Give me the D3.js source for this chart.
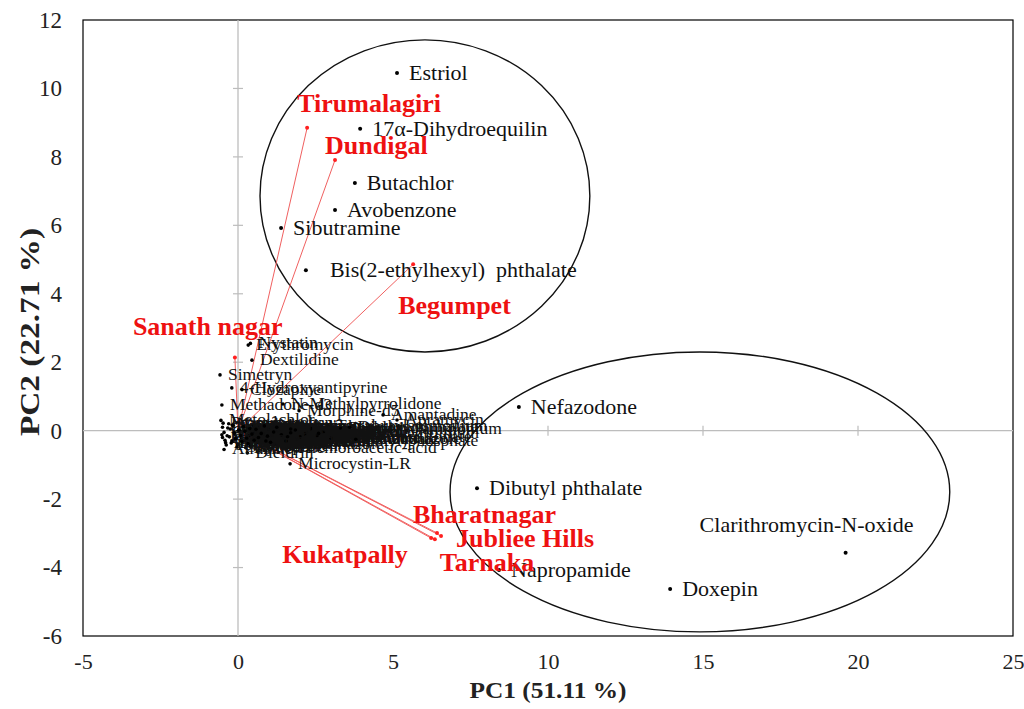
<!DOCTYPE html>
<html><head><meta charset="utf-8">
<script src="https://cdn.jsdelivr.net/npm/d3@7"></script>
<style>
body{margin:0;background:#fff;}
text{font-family:"Liberation Serif","Times New Roman",serif;}
</style></head>
<body><svg id="chart" width="1024" height="709"></svg>
<script>
// ---- data ----
const xTicks = [-5, 0, 5, 10, 15, 20, 25];
const yTicks = [-6, -4, -2, 0, 2, 4, 6, 8, 10, 12];
const xTitle = "PC1 (51.11 %)";
const yTitle = "PC2 (22.71 %)";

// main labelled compounds (scores)
const compoundNames = ["Estriol","17\u03b1-Dihydroequilin","Butachlor","Avobenzone","Sibutramine","Bis(2-ethylhexyl)  phthalate","Nefazodone","Dibutyl phthalate","Clarithromycin-N-oxide","Napropamide","Doxepin"];
const compoundX = [5.13, 3.94, 3.77, 3.13, 1.39, 2.19, 9.06, 7.71, 19.6, 8.42, 13.94];
const compoundY = [10.45, 8.82, 7.24, 6.45, 5.92, 4.69, 0.69, -1.68, -3.57, -4.07, -4.63];

// small labelled compounds near the origin
const minorNames = ["Erythromycin","Nystatin","Dextilidine","Simetryn","4-Hydroxyantipyrine","Clozapine","Methadone-d3","N-Methylpyrrolidone","Morphine-d5","Amantadine","Apramycin","Microcystin-LR",
 "Metolachlor","Caffeine","Carbamazepine","Diclofenac","Ibuprofen","Naproxen","Triclosan","Metoprolol","Sulfamethoxazole","Trimethoprim","Acetaminophen","Gemfibrozil","Bisphenol A","Benzophenone-3","Propranolol","Fluoxetine","Venlafaxine","Tramadol","Ketoprofen","Lincomycin","Ciprofloxacin","Ofloxacin","Tetracycline","Chlorpyrifos","Diazinon","Malathion","Imidacloprid","Carbendazim","Terbutryn","Trichloroacetic-acid","Tetrabutylammonium","Perfluorooctanoate","Dieldrin","Atrazine","Diuron","Simazine","Propiconazole","Tebuconazole",
 "Methylparaben","Propylparaben","Galaxolide","Tonalide","Estrone","Testosterone","Progesterone","Cotinine","Nicotine","Codeine","Oxycodone","Citalopram","Sertraline","Paroxetine","Atenolol","Sotalol","Losartan","Valsartan","Metformin","Ranitidine","Omeprazole","Clindamycin","Azithromycin","Roxithromycin","Sulfadiazine","Norfloxacin","Enrofloxacin","Chloramphenicol","Triclocarban","Carbaryl","Carbofuran","Fipronil","Permethrin","Cypermethrin","Metribuzin","Prometryn","Alachlor","Acetochlor","Dimethoate","Dichlorvos",
 "Dodecyltrimethylammonium","Perfluorooctanesulfonate","Hexadecylpyridinium","Tris(2-chloroethyl)phosphate","Diethyl phthalate","Benzotriazole"];
const minorX = [0.33, 0.40, 0.45, -0.58, -0.20, 0.13, -0.52, 1.45, 1.97, 4.68, 5.13, 1.68,
 -0.55, -0.50, -0.45, -0.50, -0.40, -0.30, -0.35, -0.25, -0.20, -0.15, -0.10, 0.00, 0.05, 0.10, 0.15, 0.20, 0.30, 0.35, 0.40, 0.50, 0.55, 0.60, 0.70, 0.80, 0.90, 1.00, 1.10, 1.30, 1.50, 1.60, 2.90, 1.90, 0.30, -0.45, 0.25, 0.65, 1.20, 2.20,
 -0.52, -0.48, -0.42, -0.38, -0.33, -0.28, -0.22, -0.18, -0.12, -0.08, -0.03, 0.02, 0.08, 0.12, 0.18, 0.22, 0.28, 0.33, 0.38, 0.45, 0.52, 0.58, 0.66, 0.75, 0.85, 0.95, 1.05, 1.15, 1.25, 1.40, 1.55, 1.70, 1.85, 2.00, 2.15, 2.35, 2.55, 2.75, 3.00, 3.30,
 1.70, 1.60, 2.60, 0.90, 3.60, 3.80];
const minorY = [2.50, 2.55, 2.06, 1.63, 1.25, 1.20, 0.75, 0.78, 0.58, 0.46, 0.31, -0.97,
 0.30, 0.10, -0.05, -0.20, -0.35, 0.20, -0.15, 0.05, -0.30, 0.15, -0.10, -0.40, 0.00, -0.20, 0.10, -0.30, 0.05, -0.15, -0.45, 0.15, -0.05, -0.25, 0.10, -0.10, -0.30, 0.05, -0.15, 0.00, -0.20, -0.50, 0.15, -0.25, -0.65, -0.55, -0.50, -0.35, -0.40, -0.05,
 -0.12, 0.22, -0.28, -0.42, 0.08, -0.18, -0.36, 0.16, -0.06, -0.24, -0.48, 0.02, -0.14, -0.32, 0.12, -0.02, -0.22, -0.38, 0.06, -0.10, -0.28, 0.04, -0.20, -0.08, 0.14, -0.16, -0.34, -0.04, 0.10, -0.12, -0.30, -0.06, 0.02, -0.18, -0.10, 0.06, -0.14, -0.04, -0.22, 0.08,
 0.05, -0.18, -0.08, -0.30, 0.10, -0.25];

// site loadings
const siteNames = ["Tirumalagiri","Dundigal","Begumpet","Sanath nagar","Bharatnagar","Jubliee Hills","Tarnaka","Kukatpally"];
const siteX = [2.23, 3.13, 5.65, -0.10, 6.42, 6.55, 6.35, 6.23];
const siteY = [8.85, 7.91, 4.86, 2.14, -2.99, -3.08, -3.17, -3.14];

// group ellipses (centre x, centre y, radius x, radius y) in PC units
const ellipseCX = [6.03, 14.9];
const ellipseCY = [6.86, -1.79];
const ellipseRX = [5.32, 8.06];
const ellipseRY = [4.56, 4.09];

// ---- layout ----
const M = {left: 83, right: 1013, top: 20, bottom: 636};
const svg = d3.select("#chart");
const x = d3.scaleLinear().domain([-5, 25]).range([M.left, M.right]);
const y = d3.scaleLinear().domain([-6, 12]).range([M.bottom, M.top]);
const serif = "Liberation Serif, Times New Roman, serif";

// label offsets (px) for site labels
const siteLabelOff = {
  "Tirumalagiri": [-10, -16], "Dundigal": [-10, -6], "Begumpet": [-15, 50],
  "Sanath nagar": [-102, -22], "Bharatnagar": [-24, -10], "Jubliee Hills": [15, 11],
  "Tarnaka": [5, 32], "Kukatpally": [-149, 25]
};

// frame
svg.append("rect").attr("x", M.left).attr("y", M.top)
  .attr("width", M.right - M.left).attr("height", M.bottom - M.top)
  .attr("fill", "none").attr("stroke", "#000").attr("stroke-width", 1.2);

// zero lines with crossing ticks
const gridCol = "#bdbdbd";
svg.append("line").attr("x1", M.left).attr("x2", M.right).attr("y1", y(0)).attr("y2", y(0))
  .attr("stroke", gridCol).attr("stroke-width", 1.3);
svg.append("line").attr("x1", x(0)).attr("x2", x(0)).attr("y1", M.top).attr("y2", M.bottom)
  .attr("stroke", gridCol).attr("stroke-width", 1.3);
svg.selectAll(".xt").data(xTicks.filter(d => d > -5 && d < 25)).enter().append("line")
  .attr("x1", d => x(d)).attr("x2", d => x(d)).attr("y1", y(0) - 5).attr("y2", y(0) + 5)
  .attr("stroke", gridCol).attr("stroke-width", 1.2);
svg.selectAll(".yt").data(yTicks.filter(d => d > -6 && d < 12)).enter().append("line")
  .attr("x1", x(0) - 5).attr("x2", x(0) + 5).attr("y1", d => y(d)).attr("y2", d => y(d))
  .attr("stroke", gridCol).attr("stroke-width", 1.2);

// axes (labels only)
const xAxis = svg.append("g").attr("transform", `translate(0,${M.bottom + 8})`)
  .call(d3.axisBottom(x).tickValues(xTicks).tickSize(0).tickFormat(d => String(d)));
xAxis.select(".domain").remove();
xAxis.selectAll("text").attr("fill", "#222").attr("dy", "1em")
  .style("font-family", serif).style("font-size", "22px");
const yAxis = svg.append("g").attr("transform", `translate(${M.left - 18},0)`)
  .call(d3.axisLeft(y).tickValues(yTicks).tickSize(0).tickFormat(d => String(d)));
yAxis.select(".domain").remove();
yAxis.selectAll("text").attr("fill", "#222")
  .style("font-family", serif).style("font-size", "23px");

svg.append("text").attr("x", (M.left + M.right) / 2).attr("y", 698).attr("text-anchor", "middle")
  .attr("font-size", 24).attr("font-weight", "bold").attr("fill", "#222")
  .attr("textLength", 157).attr("lengthAdjust", "spacingAndGlyphs").text(xTitle);
svg.append("text").attr("transform", `translate(39,${332}) rotate(-90)`)
  .attr("text-anchor", "middle").attr("font-size", 27).attr("font-weight", "bold").attr("fill", "#222")
  .attr("textLength", 208).attr("lengthAdjust", "spacingAndGlyphs").text(yTitle);

// ellipses
svg.selectAll(".ell").data(ellipseCX).enter().append("ellipse")
  .attr("cx", (d, i) => x(d)).attr("cy", (d, i) => y(ellipseCY[i]))
  .attr("rx", (d, i) => x(ellipseRX[i]) - x(0)).attr("ry", (d, i) => y(0) - y(ellipseRY[i]))
  .attr("fill", "none").attr("stroke", "#111").attr("stroke-width", 1.4);

// site vectors
const sites = siteNames.map((n, i) => ({n, x: siteX[i], y: siteY[i]}));
svg.selectAll(".vec").data(sites).enter().append("line")
  .attr("x1", x(0)).attr("y1", y(0)).attr("x2", d => x(d.x)).attr("y2", d => y(d.y))
  .attr("stroke", "#f06060").attr("stroke-width", 1);
svg.selectAll(".sdot").data(sites).enter().append("circle")
  .attr("cx", d => x(d.x)).attr("cy", d => y(d.y)).attr("r", 2).attr("fill", "#ff2020");

// minor compounds
const minors = minorNames.map((n, i) => ({n, x: minorX[i], y: minorY[i]}));
const mg = svg.selectAll(".minor").data(minors).enter().append("g")
  .attr("transform", d => `translate(${x(d.x)},${y(d.y)})`);
mg.append("circle").attr("r", 1.8).attr("fill", "#000");
mg.append("text").attr("x", 8).attr("y", 5).attr("font-size", 17.5).attr("fill", "#111").text(d => d.n);

// main compounds
const comps = compoundNames.map((n, i) => ({n, x: compoundX[i], y: compoundY[i]}));
const cg = svg.selectAll(".comp").data(comps).enter().append("g")
  .attr("transform", d => `translate(${x(d.x)},${y(d.y)})`);
cg.append("circle").attr("r", 2).attr("fill", "#000");
cg.append("text")
  .attr("x", d => d.n.startsWith("Bis") ? 24 : (d.n.startsWith("Clarithromycin") ? -146 : 12))
  .attr("y", d => d.n.startsWith("Clarithromycin") ? -21 : 7)
  .attr("font-size", 22).attr("fill", "#111").style("white-space", "pre").text(d => d.n);

// site labels
svg.selectAll(".slab").data(sites).enter().append("text")
  .attr("x", d => x(d.x) + siteLabelOff[d.n][0]).attr("y", d => y(d.y) + siteLabelOff[d.n][1])
  .attr("font-size", 26).attr("font-weight", "bold").attr("fill", "#ee1111").text(d => d.n);
</script></body></html>
